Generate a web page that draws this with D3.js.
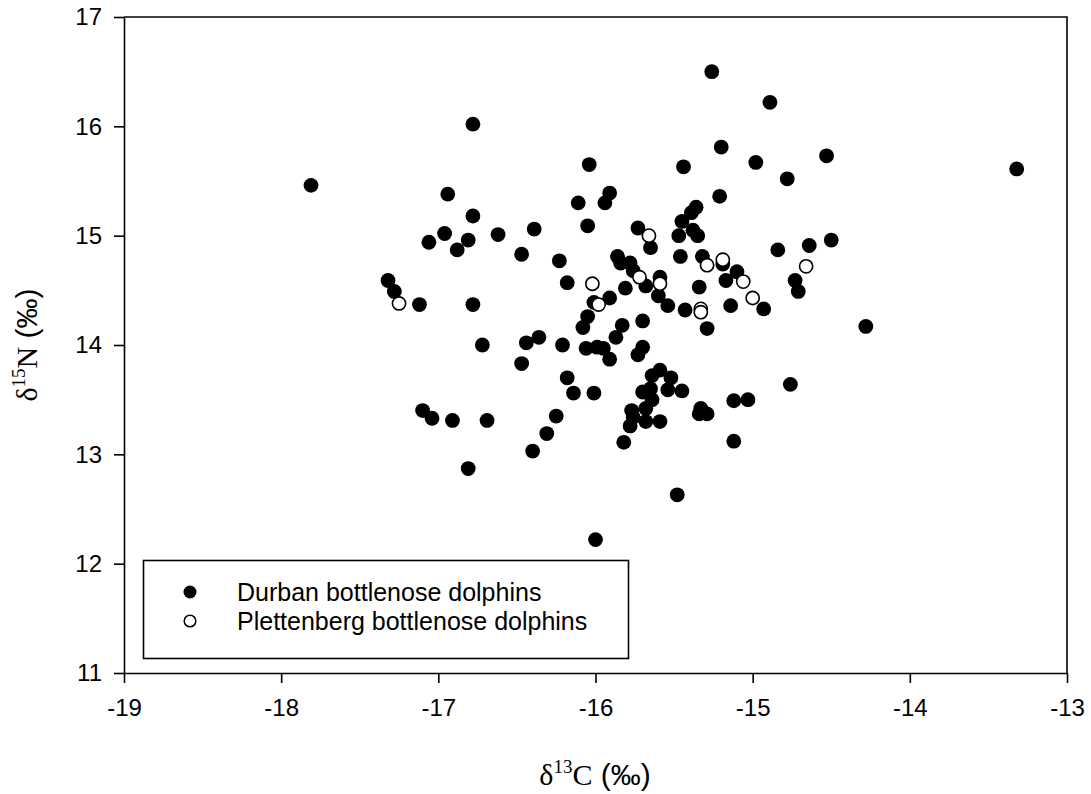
<!DOCTYPE html>
<html>
<head>
<meta charset="utf-8">
<script src="https://cdn.jsdelivr.net/npm/d3@7"></script>
<style>
  html, body { margin: 0; padding: 0; background: #fff; }
  svg { display: block; }
  text { font-family: "Liberation Sans", Arial, sans-serif; fill: #000; }
</style>
</head>
<body>
<svg id="chart" width="1091" height="794"></svg>
<script>
// ---- Data ----
const durbanC = [
  -17.81, -16.78, -16.94, -16.78, -16.96, -17.06, -16.81, -16.88, -16.62, -16.39,
  -16.47, -16.23, -16.18, -16.11, -17.32, -17.28, -17.12, -16.78, -16.72, -16.44,
  -16.36, -16.21, -16.08, -16.05, -15.26, -14.89, -15.20, -14.98, -14.53, -14.78,
  -16.04, -15.44, -15.21, -15.91, -15.94, -16.05, -15.36, -15.39, -15.45, -15.47,
  -15.38, -15.35, -15.73, -15.65, -15.46, -15.32, -15.19, -15.10, -15.17, -14.93,
  -14.84, -14.64, -14.50, -14.73, -14.71, -15.86, -15.84, -15.78, -15.76, -15.68,
  -15.59, -15.81, -15.60, -15.91, -16.01, -15.54, -15.43, -15.34, -15.14, -15.70,
  -14.28, -13.32, -15.29, -15.83, -15.87, -16.06, -15.99, -15.95, -15.91, -15.70,
  -15.73, -16.47, -16.18, -16.14, -16.01, -17.10, -17.04, -16.91, -16.69, -16.81,
  -16.25, -16.31, -16.40, -15.59, -15.64, -15.52, -15.70, -15.65, -15.54, -15.45,
  -15.64, -15.68, -15.77, -15.76, -15.78, -15.68, -15.59, -15.82, -15.34, -15.29,
  -15.33, -15.12, -15.03, -14.76, -15.12, -15.48, -16.00
];
const durbanN = [
  15.46, 16.02, 15.38, 15.18, 15.02, 14.94, 14.96, 14.87, 15.01, 15.06,
  14.83, 14.77, 14.57, 15.30, 14.59, 14.49, 14.37, 14.37, 14.00, 14.02,
  14.07, 14.00, 14.16, 14.26, 16.50, 16.22, 15.81, 15.67, 15.73, 15.52,
  15.65, 15.63, 15.36, 15.39, 15.30, 15.09, 15.26, 15.21, 15.13, 15.00,
  15.05, 15.00, 15.07, 14.89, 14.81, 14.81, 14.74, 14.67, 14.59, 14.33,
  14.87, 14.91, 14.96, 14.59, 14.49, 14.81, 14.75, 14.75, 14.68, 14.54,
  14.62, 14.52, 14.45, 14.43, 14.39, 14.36, 14.32, 14.53, 14.36, 14.22,
  14.17, 15.61, 14.15, 14.18, 14.07, 13.97, 13.98, 13.97, 13.87, 13.98,
  13.91, 13.83, 13.70, 13.56, 13.56, 13.40, 13.33, 13.31, 13.31, 12.87,
  13.35, 13.19, 13.03, 13.77, 13.72, 13.70, 13.57, 13.60, 13.59, 13.58,
  13.50, 13.42, 13.40, 13.34, 13.26, 13.30, 13.30, 13.11, 13.37, 13.37,
  13.42, 13.49, 13.50, 13.64, 13.12, 12.63, 12.22
];
const plettC = [-17.25, -16.02, -15.98, -15.66, -15.72, -15.59, -15.33, -15.33, -15.29, -15.19, -15.06, -15.00, -14.66];
const plettN = [ 14.38,  14.56,  14.37,  15.00,  14.62,  14.56,  14.33,  14.30,  14.73,  14.78,  14.58,  14.43,  14.72];
const xTicks = [-19, -18, -17, -16, -15, -14, -13];
const yTicks = [11, 12, 13, 14, 15, 16, 17];
const seriesNames = ["Durban bottlenose dolphins", "Plettenberg bottlenose dolphins"];

// ---- Layout ----
const svg = d3.select("#chart");
const L = 124, R = 1067, T = 17, B = 673;
const x = d3.scaleLinear().domain([-19, -13]).range([L, R]);
const y = d3.scaleLinear().domain([11, 17]).range([B, T]);

// frame (top and right)
svg.append("path")
  .attr("d", `M${L},${T}H${R}V${B}`)
  .attr("fill", "none").attr("stroke", "#000").attr("stroke-width", 1.6);

const xAxis = svg.append("g").attr("transform", `translate(0,${B})`)
  .call(d3.axisBottom(x).tickValues(xTicks).tickFormat(d3.format("d")).tickSize(10).tickSizeOuter(0).tickPadding(16));
const yAxis = svg.append("g").attr("transform", `translate(${L},0)`)
  .call(d3.axisLeft(y).tickValues(yTicks).tickFormat(d3.format("d")).tickSize(10).tickSizeOuter(0).tickPadding(12));

[xAxis, yAxis].forEach(g => {
  g.selectAll("path.domain").attr("stroke", "#000").attr("stroke-width", 1.6);
  g.selectAll(".tick line").attr("stroke", "#000").attr("stroke-width", 1.6);
  g.selectAll(".tick text").style("font-family", "'Liberation Sans', Arial, sans-serif")
    .style("font-size", "24px").attr("fill", "#000");
});
xAxis.selectAll(".tick text").text(d => d < 0 ? "-" + Math.abs(d) : d);

// ---- Points ----
const r = 7.4;
const durban = durbanC.map((c, i) => ({c, n: durbanN[i]}));
const plett = plettC.map((c, i) => ({c, n: plettN[i]}));
svg.append("g").selectAll("circle").data(durban).join("circle")
  .attr("cx", d => x(d.c)).attr("cy", d => y(d.n)).attr("r", r)
  .attr("fill", "#000");
svg.append("g").selectAll("circle").data(plett).join("circle")
  .attr("cx", d => x(d.c)).attr("cy", d => y(d.n)).attr("r", r - 0.8)
  .attr("fill", "#fff").attr("stroke", "#000").attr("stroke-width", 1.6);

// ---- Legend ----
const lg = svg.append("g");
lg.append("rect").attr("x", 143.5).attr("y", 560.5).attr("width", 485).attr("height", 98)
  .attr("fill", "#fff").attr("stroke", "#000").attr("stroke-width", 1.6);
const rows = [592, 621];
lg.append("circle").attr("cx", 190).attr("cy", rows[0]).attr("r", 6.5).attr("fill", "#000");
lg.append("circle").attr("cx", 190).attr("cy", rows[1]).attr("r", 5.8)
  .attr("fill", "#fff").attr("stroke", "#000").attr("stroke-width", 1.5);
seriesNames.forEach((s, i) => {
  lg.append("text").attr("x", 237).attr("y", rows[i]).attr("dy", "0.36em")
    .style("font-size", "25px").text(s);
});

// ---- Axis titles ----
const serif = "'Liberation Serif', 'Times New Roman', serif";
const xt = svg.append("text").attr("x", 595).attr("y", 785).attr("text-anchor", "middle")
  .style("font-size", "30px");
xt.append("tspan").style("font-family", serif).text("δ");
xt.append("tspan").style("font-family", serif).style("font-size", "19px").attr("dy", "-12").text("13");
xt.append("tspan").style("font-family", serif).attr("dy", "12").text("C");
xt.append("tspan").text(" (‰)");

const yt = svg.append("text").attr("transform", "translate(37,345) rotate(-90)")
  .attr("text-anchor", "middle").style("font-size", "30px");
yt.append("tspan").style("font-family", serif).text("δ");
yt.append("tspan").style("font-family", serif).style("font-size", "19px").attr("dy", "-12").text("15");
yt.append("tspan").style("font-family", serif).attr("dy", "12").text("N");
yt.append("tspan").text(" (‰)");
</script>
</body>
</html>
